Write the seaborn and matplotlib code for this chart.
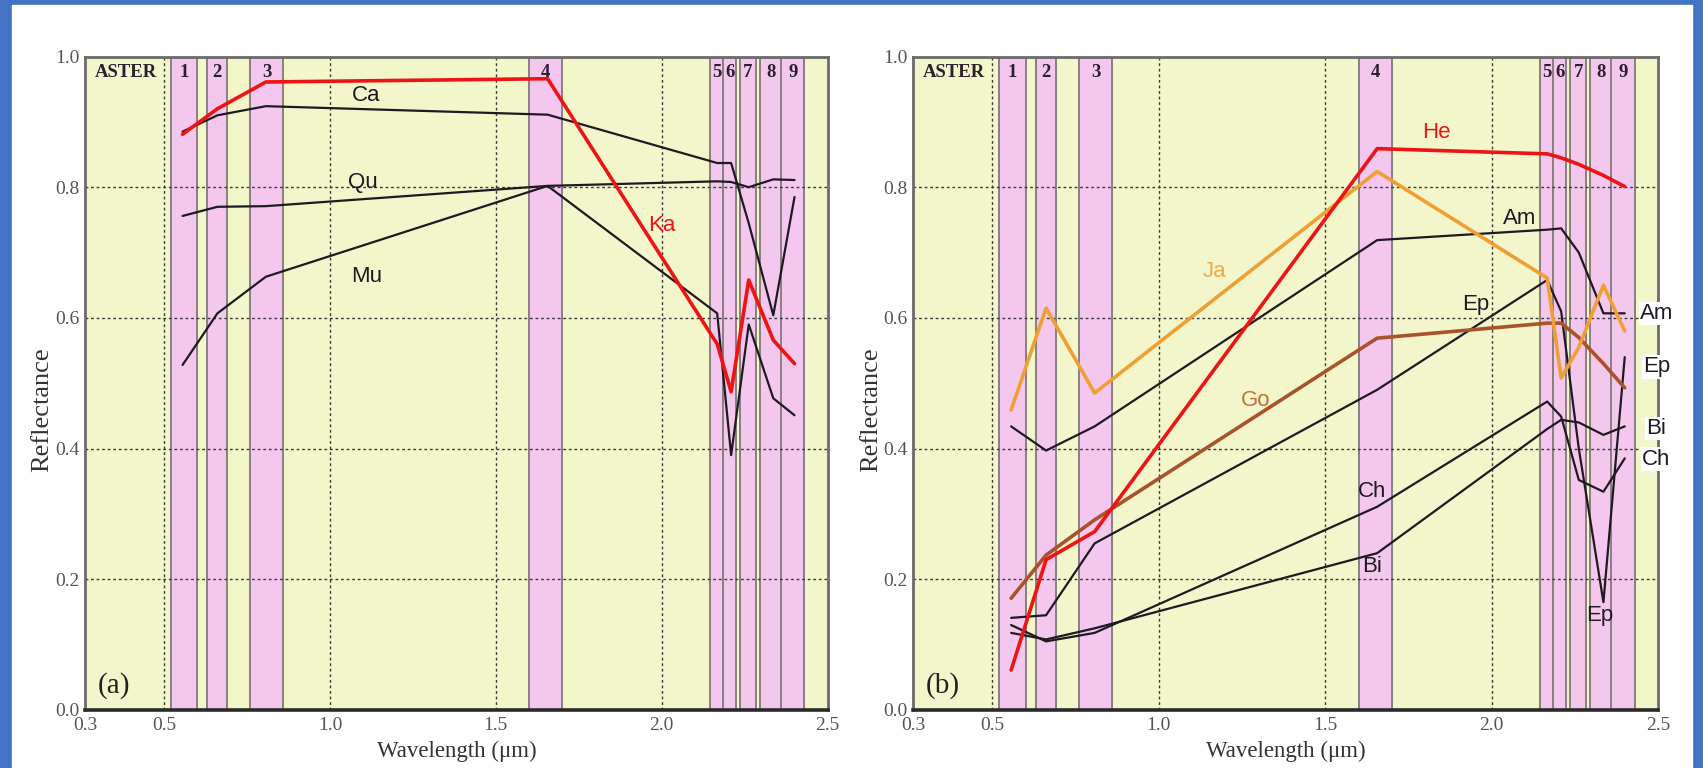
import numpy as np
import pandas as pd
import matplotlib
matplotlib.use('Agg')
import matplotlib.pyplot as plt
import seaborn as sns
from matplotlib.patches import Rectangle

# ---------------- data ----------------
band_names = ['1', '2', '3', '4', '5', '6', '7', '8', '9']
band_lo = [0.52, 0.63, 0.76, 1.60, 2.145, 2.185, 2.235, 2.295, 2.360]
band_hi = [0.60, 0.69, 0.86, 1.70, 2.185, 2.225, 2.285, 2.365, 2.430]
band_center = [0.556, 0.661, 0.807, 1.656, 2.167, 2.209, 2.262, 2.336, 2.400]

# panel (a)
Ca = [0.885, 0.910, 0.924, 0.911, 0.837, 0.837, 0.745, 0.604, 0.785]
Qu = [0.756, 0.770, 0.771, 0.802, 0.809, 0.808, 0.800, 0.812, 0.811]
Mu = [0.528, 0.607, 0.663, 0.802, 0.607, 0.390, 0.590, 0.477, 0.451]
Ka = [0.881, 0.920, 0.961, 0.966, 0.560, 0.487, 0.658, 0.566, 0.530]

# panel (b)
He = [0.061, 0.230, 0.273, 0.859, 0.851, 0.845, 0.835, 0.818, 0.801]
Ja = [0.459, 0.615, 0.485, 0.824, 0.661, 0.508, 0.555, 0.650, 0.580]
Am = [0.434, 0.397, 0.434, 0.719, 0.735, 0.737, 0.700, 0.607, 0.607]
Ep = [0.141, 0.145, 0.255, 0.490, 0.658, 0.610, 0.400, 0.165, 0.540]
Go = [0.171, 0.237, 0.291, 0.569, 0.592, 0.592, 0.570, 0.530, 0.493]
Ch = [0.130, 0.105, 0.118, 0.311, 0.472, 0.449, 0.352, 0.334, 0.385]
Bi = [0.118, 0.108, 0.125, 0.240, 0.430, 0.444, 0.440, 0.421, 0.434]

x_ticks = [0.262, 0.5, 1.0, 1.5, 2.0, 2.5]
x_ticklabels = ['0.3', '0.5', '1.0', '1.5', '2.0', '2.5']
y_ticks = [0.0, 0.2, 0.4, 0.6, 0.8, 1.0]
y_ticklabels = ['0.0', '0.2', '0.4', '0.6', '0.8', '1.0']

# ---------------- style ----------------
sns.set_theme(style='white')
plt.rcParams['font.family'] = ['Liberation Serif', 'DejaVu Serif']

RED = '#EE1414'
ORANGE = '#F0A033'
BROWN = '#A9532B'
BLACK = '#1E1A22'
BG = '#F3F6CA'
PINK = '#F4C8EE'
EDGE = '#8A7E80'

W, H = 1703, 768
fig = plt.figure(figsize=(W / 100, H / 100), dpi=100)
fig.patches.append(Rectangle((0, 0), 1, 1, transform=fig.transFigure,
                             color='#4472C4', zorder=-10))
fig.patches.append(Rectangle((12 / W, 0), (1692 - 12) / W, (768 - 5) / H,
                             transform=fig.transFigure, color='white', zorder=-9))

ax1 = fig.add_axes([85 / W, 58 / H, (827.7 - 85) / W, 653.5 / H])
ax2 = fig.add_axes([913.3 / W, 58 / H, (1658 - 913.3) / W, 653.5 / H])


def setup(ax, tag):
    ax.set_facecolor(BG)
    ax.set_xlim(0.262, 2.5)
    ax.set_ylim(0, 1)
    for lo, hi, nm in zip(band_lo, band_hi, band_names):
        ax.axvspan(lo, hi, facecolor=PINK, edgecolor=EDGE, lw=1.4, zorder=1)
        ax.text((lo + hi) / 2, 0.975, nm, ha='center', va='center',
                fontsize=13.5, fontweight='bold', color='#2a2030', zorder=6)
    ax.text(0.385, 0.975, 'ASTER', ha='center', va='center', fontsize=13.5,
            fontweight='bold', color='#2a2030', zorder=6)
    for yv in [0.2, 0.4, 0.6, 0.8]:
        ax.axhline(yv, color='#3a3a3a', ls=(0, (2.0, 2.0)), lw=1.0, zorder=2)
    for xv in [0.5, 1.0, 1.5, 2.0]:
        ax.axvline(xv, color='#3a3a3a', ls=(0, (2.0, 2.0)), lw=1.0, zorder=2)
    ax.set_xticks(x_ticks)
    ax.set_xticklabels(x_ticklabels)
    ax.set_yticks(y_ticks)
    ax.set_yticklabels(y_ticklabels)
    ax.tick_params(axis='both', labelsize=14, colors='#555555', length=0, pad=5)
    ax.tick_params(axis='y', length=3, width=1, pad=1)
    for side in ['top', 'left', 'right']:
        ax.spines[side].set_color('#6a6a6a')
        ax.spines[side].set_linewidth(2.0)
    ax.spines['bottom'].set_color('#2a2a2a')
    ax.spines['bottom'].set_linewidth(2.6)
    for s in ax.spines.values():
        s.set_zorder(8)
    ax.text(0.039, 0.037, tag, transform=ax.transAxes, ha='center',
            va='center', fontsize=21, color='#222222', zorder=6)


setup(ax1, '(a)')
setup(ax2, '(b)')


def curve(ax, vals, color, lw):
    sns.lineplot(x=band_center, y=vals, ax=ax, color=color, linewidth=lw,
                 legend=False, zorder=5, estimator=None, sort=False)


curve(ax1, Qu, BLACK, 1.6)
curve(ax1, Mu, BLACK, 1.6)
curve(ax1, Ca, BLACK, 1.6)
curve(ax1, Ka, RED, 2.6)

curve(ax2, Bi, BLACK, 1.6)
curve(ax2, Ch, BLACK, 1.6)
curve(ax2, Ep, BLACK, 1.6)
curve(ax2, Am, BLACK, 1.6)
curve(ax2, Go, BROWN, 2.6)
curve(ax2, Ja, ORANGE, 2.6)
curve(ax2, He, RED, 2.6)

for ax in (ax1, ax2):
    ax.set_xlabel('Wavelength (μm)', fontsize=16.5, color='#333333', labelpad=5)
    ax.set_ylabel('Reflectance', fontsize=19, color='#333333')
ax1.yaxis.set_label_coords(-0.043, 0.46)
ax2.yaxis.set_label_coords(-0.042, 0.46)

sans = ['Liberation Sans', 'DejaVu Sans']
lab = dict(fontsize=16, family=sans, ha='center', va='center', zorder=7)
ax1.text(1.11, 0.941, 'Ca', color=BLACK, **lab)
ax1.text(1.10, 0.807, 'Qu', color=BLACK, **lab)
ax1.text(1.11, 0.663, 'Mu', color=BLACK, **lab)
ax1.text(2.00, 0.742, 'Ka', color=RED, **lab)

ax2.text(1.835, 0.883, 'He', color=RED, **lab)
ax2.text(1.167, 0.671, 'Ja', color='#EFA850', **lab)
ax2.text(2.084, 0.752, 'Am', color=BLACK, **lab)
ax2.text(1.953, 0.621, 'Ep', color=BLACK, **lab)
ax2.text(1.290, 0.474, 'Go', color='#C0703A', **lab)
ax2.text(1.640, 0.334, 'Ch', color=BLACK, **lab)
ax2.text(1.640, 0.219, 'Bi', color=BLACK, **lab)
ax2.text(2.325, 0.145, 'Ep', color=BLACK, **lab)
edge = dict(fontsize=16, family=sans, ha='center', va='center', zorder=9,
            clip_on=False, color=BLACK,
            bbox=dict(boxstyle='square,pad=0.05', fc='white', ec='none'))
ax2.text(2.495, 0.607, 'Am', **edge)
ax2.text(2.495, 0.525, 'Ep', **edge)
ax2.text(2.495, 0.431, 'Bi', **edge)
ax2.text(2.495, 0.384, 'Ch', **edge)

fig.savefig('out.png', dpi=100)
